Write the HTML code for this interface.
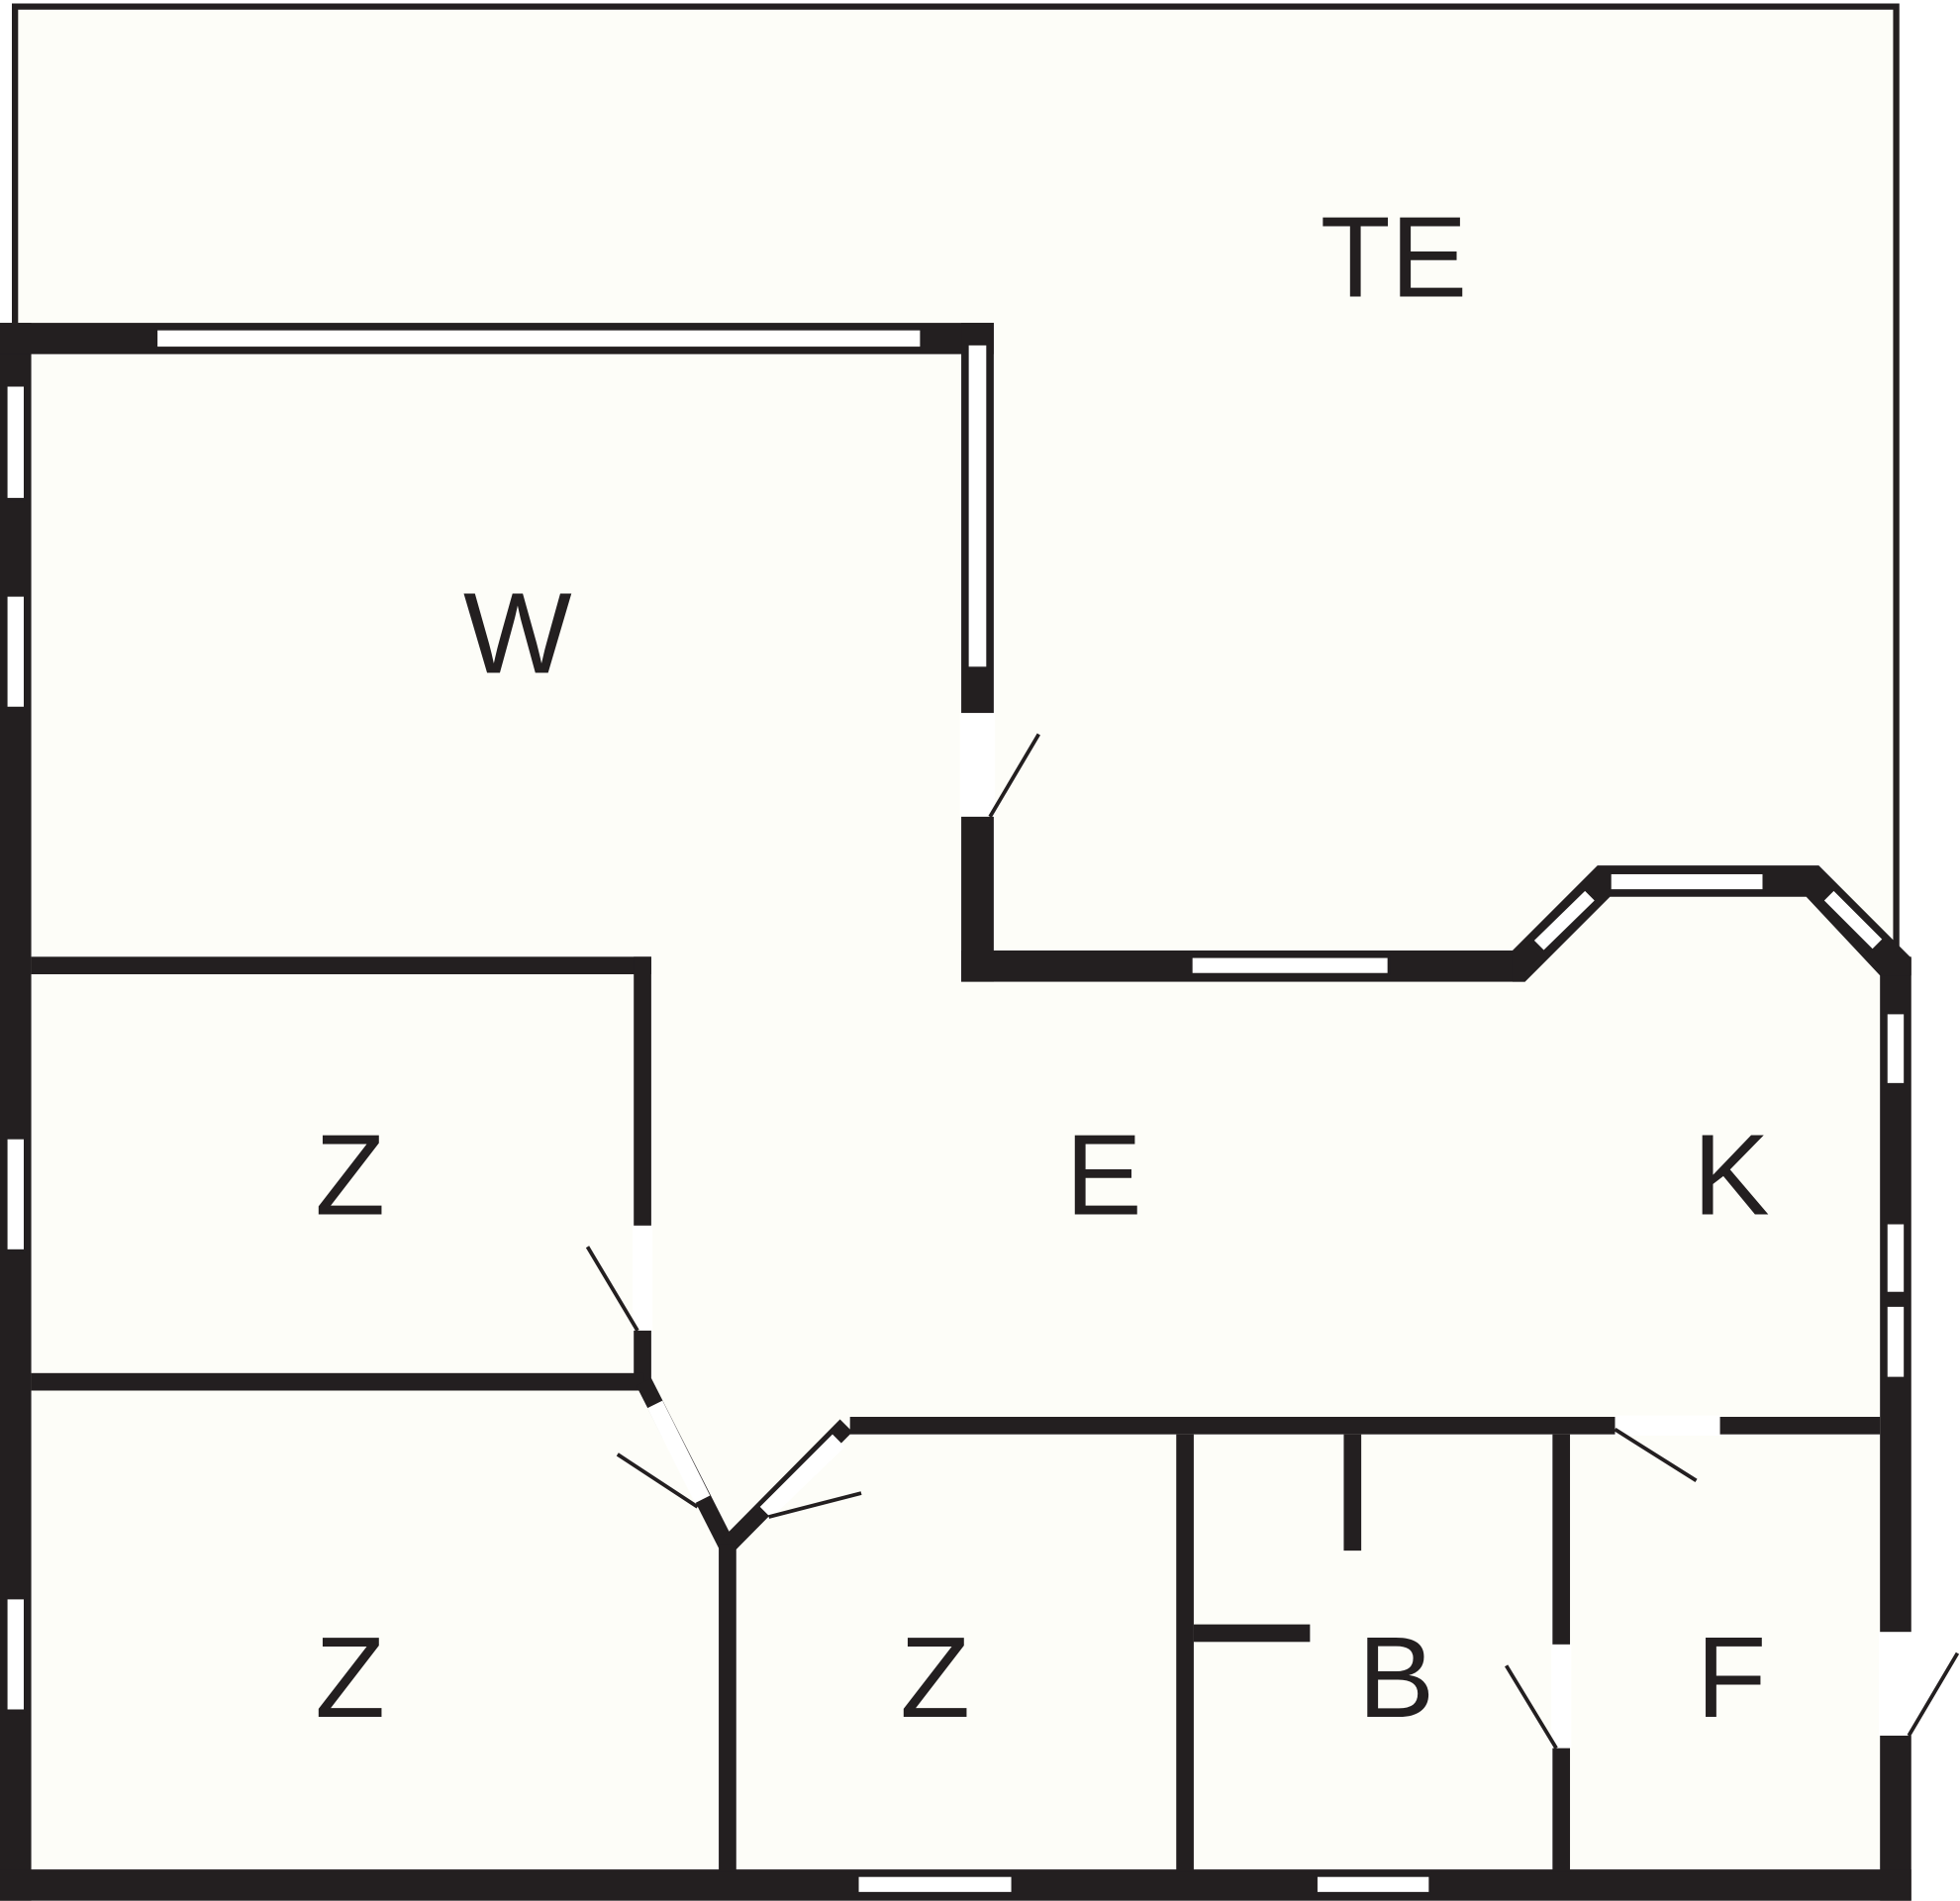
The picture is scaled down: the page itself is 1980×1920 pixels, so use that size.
<!DOCTYPE html>
<html><head><meta charset="utf-8"><style>
html,body{margin:0;padding:0;background:#fff;}
svg{display:block}
text{font-family:"Liberation Sans",sans-serif;font-size:92px;fill:#231f20;text-anchor:middle}
</style></head><body>
<svg width="1980" height="1920" viewBox="0 0 1568 1520" xmlns="http://www.w3.org/2000/svg">
<rect x="0" y="0" width="1568" height="1520" fill="#ffffff"/>
<polygon points="10,3 1517,3 1517,760 1529,765 1529,1520 0,1520 0,258 10,258" fill="#fdfdf8"/>
<polyline points="12,258 12,5 1517,5 1517,757" fill="none" stroke="#231f20" stroke-width="5"/>
<g fill="#231f20">
<rect x="0" y="258" width="25" height="1262"/>
<rect x="0" y="258" width="795" height="25"/>
<rect x="769" y="258" width="26" height="527"/>
<rect x="769" y="760" width="451" height="25"/>
<rect x="1504" y="765" width="25" height="755"/>
<rect x="0" y="1495" width="1529" height="25"/>
<polygon points="1210,760 1278,692 1455,692 1529,766 1529,780 1504,780 1445,717 1288,717 1220,785 1210,785"/>
<rect x="25" y="765" width="496" height="14"/>
<rect x="507" y="765" width="14" height="345"/>
<rect x="25" y="1098" width="490" height="14"/>
<polygon points="509,1108 521,1102 590,1238 578,1244"/>
<polygon points="578,1230 672,1135 682,1145 588,1240"/>
<rect x="575" y="1235" width="14" height="262"/>
<rect x="680" y="1133" width="824" height="14"/>
<rect x="941" y="1147" width="14" height="350"/>
<rect x="1075" y="1147" width="14" height="93"/>
<rect x="955" y="1299" width="93" height="14"/>
<rect x="1242" y="1147" width="14" height="350"/>
</g>
<g fill="#fff" stroke="#231f20" stroke-width="2">
<rect x="125" y="263" width="612" height="15"/>
<rect x="774" y="275" width="16" height="259"/>
<rect x="953" y="765" width="158" height="14"/>
<rect x="1288" y="698" width="123" height="14"/>
<polygon points="1226,752 1268,711 1277,720 1235,761"/>
<polygon points="1458,720 1467,711 1507,751 1498,760"/>
<rect x="1509" y="810" width="15" height="57"/>
<rect x="1509" y="978" width="15" height="56"/>
<rect x="1509" y="1044" width="15" height="58"/>
<rect x="686" y="1500" width="124" height="14"/>
<rect x="1053" y="1500" width="91" height="14"/>
<rect x="5" y="308" width="15" height="91"/>
<rect x="5" y="476" width="15" height="90"/>
<rect x="5" y="910" width="15" height="90"/>
<rect x="5" y="1278" width="15" height="90"/>
</g>
<g fill="#ffffff">
<rect x="768" y="570" width="28" height="83"/>
<rect x="506" y="980" width="16" height="84"/>
<polygon points="518,1126 530,1120 568,1196 556,1202"/>
<polygon points="608,1205 666,1147 676,1157 617,1214"/>
<rect x="1292" y="1132" width="84" height="16"/>
<rect x="1241" y="1315" width="16" height="83"/>
<rect x="1503" y="1305" width="27" height="83"/>
</g>
<g stroke="#231f20" stroke-width="3" fill="none">
<line x1="792" y1="653" x2="831" y2="587"/>
<line x1="510" y1="1064" x2="470" y2="997"/>
<line x1="558" y1="1205" x2="494" y2="1163"/>
<line x1="615" y1="1213" x2="689" y2="1194"/>
<line x1="1292" y1="1143" x2="1357" y2="1184"/>
<line x1="1245" y1="1398" x2="1205" y2="1332"/>
<line x1="1527" y1="1388" x2="1566" y2="1322"/>
</g>
<text x="1115" y="237">TE</text>
<text x="414" y="538">W</text>
<text x="280" y="971">Z</text>
<text x="883" y="971">E</text>
<text x="1385" y="971">K</text>
<text x="280" y="1373">Z</text>
<text x="748" y="1373">Z</text>
<text x="1117" y="1373">B</text>
<text x="1385" y="1373">F</text>
</svg>
</body></html>
